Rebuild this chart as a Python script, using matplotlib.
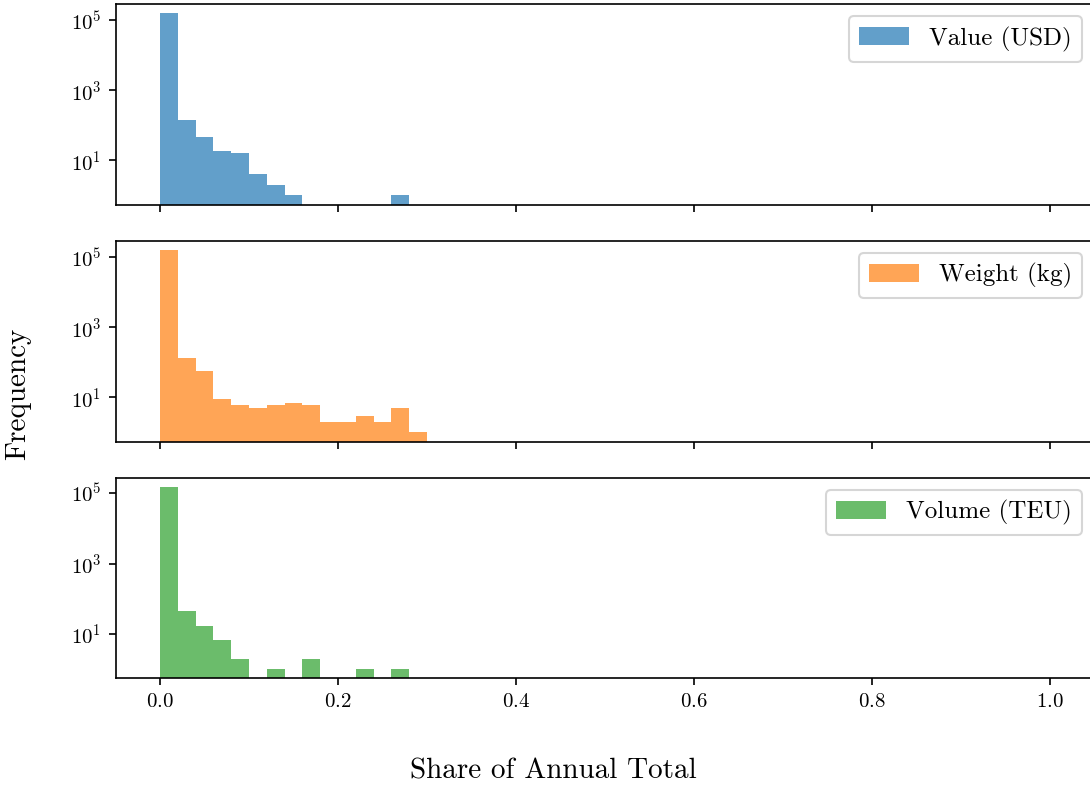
import numpy as np
import matplotlib
matplotlib.use("Agg")
import matplotlib.pyplot as plt
from matplotlib.ticker import NullLocator

plt.rcParams.update({
    "font.family": "serif",
    "font.serif": ["cmr10"],
    "mathtext.fontset": "cm",
    "axes.formatter.use_mathtext": True,
    "axes.unicode_minus": False,
})

# histogram counts per 0.02-wide share bin, starting at 0.0
bin_width = 0.02
value_counts = [158000, 138, 45, 19, 16, 4, 2, 1, 0, 0, 0, 0, 0, 1]
weight_counts = [160000, 135, 57, 9, 6, 5, 6, 7, 6, 2, 2, 3, 2, 5, 1]
volume_counts = [148000, 46, 17, 7, 2, 0, 1, 0, 2, 0, 0, 1, 0, 1]

series = [
    ("Value (USD)", value_counts, "tab:blue"),
    ("Weight (kg)", weight_counts, "tab:orange"),
    ("Volume (TEU)", volume_counts, "tab:green"),
]

edges = np.linspace(0, 1, 51)

fig, axes = plt.subplots(3, 1, sharex=True, figsize=(1090 / 150, 788 / 150), dpi=150)
fig.subplots_adjust(left=0.106, right=1.0041, top=0.995, bottom=0.139, hspace=0.181)

for ax, (label, counts, color) in zip(axes, series):
    centers = (np.arange(len(counts)) + 0.5) * bin_width
    ax.hist(centers, bins=edges, weights=counts, log=True,
            color=color, alpha=0.7, label=label)
    ax.set_yticks([1e1, 1e3, 1e5])
    ax.yaxis.set_minor_locator(NullLocator())
    ax.tick_params(labelsize=10)
    ax.legend(loc="upper right", fontsize=12)

axes[-1].set_xticks([0.0, 0.2, 0.4, 0.6, 0.8, 1.0])

fig.text(0.508, 0.0216, "Share of Annual Total", ha="center", va="center", fontsize=14)
fig.text(0.0165, 0.5, "Frequency", ha="center", va="center", rotation=90, fontsize=14)

fig.savefig("out.png", dpi=150)
